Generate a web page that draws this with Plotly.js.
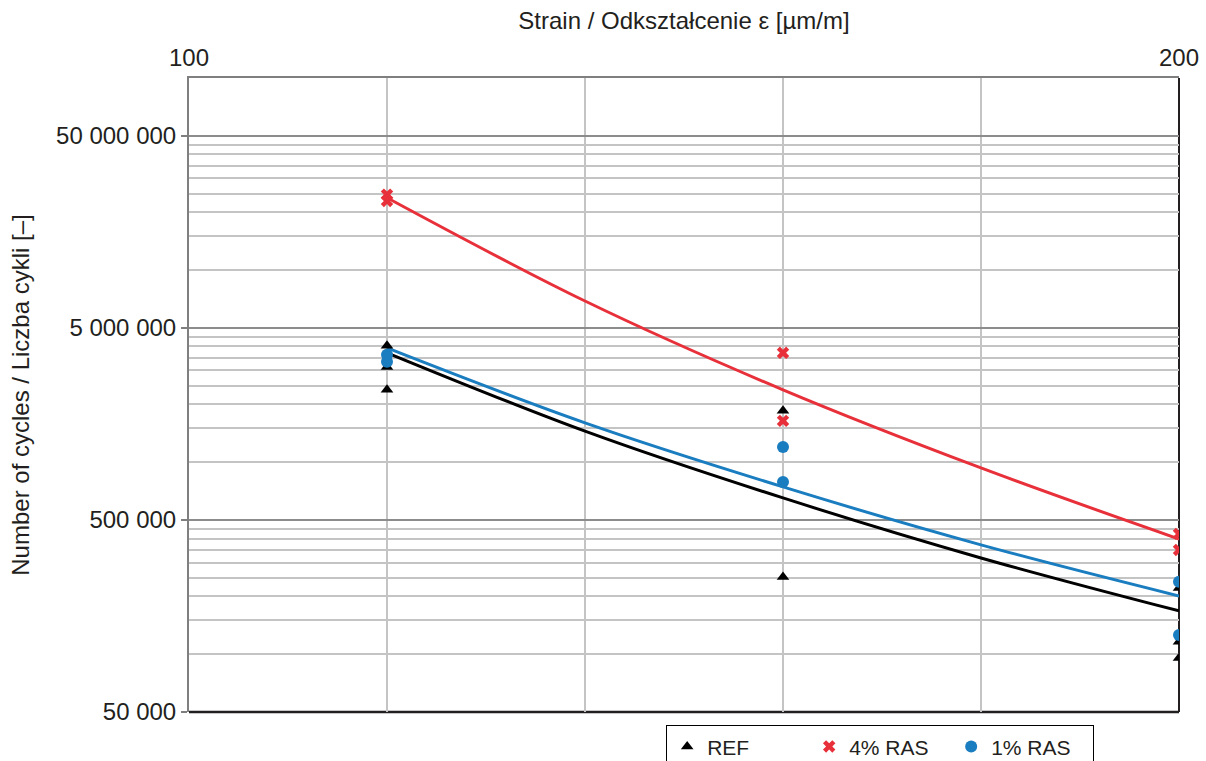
<!DOCTYPE html>
<html>
<head>
<meta charset="utf-8">
<script src="https://cdn.plot.ly/plotly-3.0.1.min.js"></script>
<style>html,body{margin:0;padding:0;background:#fff;}#chart{width:1206px;height:761px;}</style>
</head>
<body>
<div id="chart"></div>
<script>
// Measured points
const refStrain = [120, 120, 120, 160, 160, 200, 200, 200];
const refCycles = [4030000, 3130000, 2380000, 1850000, 252000, 221000, 116000, 95500];
const ras4Strain = [120, 120, 160, 160, 200, 200];
const ras4Cycles = [24700000, 22900000, 3710000, 1640000, 423000, 349000];
const ras1Strain = [120, 120, 160, 160, 200, 200];
const ras1Cycles = [3620000, 3330000, 1200000, 789000, 238000, 126000];

// Trend lines
const trendStrain = [120, 140, 160, 180, 200];
const refTrend = [3710000, 1450000, 651000, 317000, 168000];
const ras4Trend = [23800000, 6900000, 2380000, 933000, 398000];
const ras1Trend = [3930000, 1600000, 743000, 371000, 201000];

// Axis ticks
const xTickVals = [100, 120, 140, 160, 180, 200];
const xTickText = ['100', '', '', '', '', '200'];
const yTickVals = [50000, 500000, 5000000, 50000000];
const yTickText = ['50 000', '500 000', '5 000 000', '50 000 000'];
const yMinorVals = [100000,150000,200000,250000,300000,350000,400000,450000,
  1000000,1500000,2000000,2500000,3000000,3500000,4000000,4500000,
  10000000,15000000,20000000,25000000,30000000,35000000,40000000,45000000];

const FONT = 'Liberation Sans, Arial, sans-serif';
const TXT = '#231f20';
const RED = '#e8303a', BLUE = '#1a7dc0', BLACK = '#000000';
const FS = 24;

const traces = [
  {x: trendStrain, y: refTrend, mode: 'lines', line: {color: BLACK, width: 3, shape: 'spline'}, showlegend: false, hoverinfo: 'skip'},
  {x: trendStrain, y: ras1Trend, mode: 'lines', line: {color: BLUE, width: 3, shape: 'spline'}, showlegend: false, hoverinfo: 'skip'},
  {x: trendStrain, y: ras4Trend, mode: 'lines', line: {color: RED, width: 3, shape: 'spline'}, showlegend: false, hoverinfo: 'skip'},
  {x: refStrain, y: refCycles, mode: 'markers', name: 'REF', marker: {symbol: 'triangle-up', size: 11, color: BLACK}},
  {x: ras4Strain, y: ras4Cycles, mode: 'markers', name: '4% RAS', marker: {symbol: 'x', size: 11, color: RED}},
  {x: ras1Strain, y: ras1Cycles, mode: 'markers', name: '1% RAS', marker: {symbol: 'circle', size: 12, color: BLUE}}
];

const layout = {
  width: 1206, height: 761,
  paper_bgcolor: '#fff', plot_bgcolor: '#fff',
  margin: {l: 189, r: 27, t: 78, b: 49, autoexpand: false},
  font: {family: FONT, size: FS, color: TXT},
  showlegend: true,
  legend: {
    orientation: 'h', x: 0.482, xanchor: 'left', y: -0.021, yanchor: 'top',
    bordercolor: '#000', borderwidth: 1, bgcolor: '#fff',
    font: {family: FONT, size: 21, color: TXT},
    entrywidth: 97, itemwidth: 30
  },
  xaxis: {
    side: 'top', range: [100, 200],
    tickmode: 'array', tickvals: xTickVals, ticktext: xTickText,
    showgrid: true, gridcolor: '#c4c4c4', gridwidth: 2,
    showline: true, linecolor: '#7f7f7f', linewidth: 2,
    ticks: '', zeroline: false,
    tickfont: {family: FONT, size: FS, color: TXT},
    title: {text: 'Strain / Odkształcenie ε [µm/m]', font: {family: FONT, size: FS, color: TXT}, standoff: 8}
  },
  yaxis: {
    type: 'log', range: [Math.log10(50000), 8],
    tickmode: 'array', tickvals: yTickVals, ticktext: yTickText,
    showgrid: true, gridcolor: '#8c8c8c', gridwidth: 2,
    showline: true, linecolor: '#7f7f7f', linewidth: 2,
    ticks: 'outside', ticklen: 6, tickcolor: '#7f7f7f', tickwidth: 2,
    zeroline: false,
    tickfont: {family: FONT, size: FS, color: TXT},
    minor: {tickmode: 'array', tickvals: yMinorVals, showgrid: true, gridcolor: '#c4c4c4', gridwidth: 2, ticks: ''},
    title: {text: 'Number of cycles / Liczba cykli [–]', font: {family: FONT, size: FS, color: TXT}, standoff: 20}
  },
  shapes: [
    {type: 'line', xref: 'paper', yref: 'paper', x0: 0, x1: 1, y0: 0, y1: 0, line: {color: '#231f20', width: 2.5}, layer: 'between'},
    {type: 'line', xref: 'paper', yref: 'paper', x0: 1, x1: 1, y0: 0, y1: 1, line: {color: '#231f20', width: 2}, layer: 'between'}
  ]
};

Plotly.newPlot('chart', traces, layout, {displayModeBar: false, staticPlot: true});
</script>
</body>
</html>
